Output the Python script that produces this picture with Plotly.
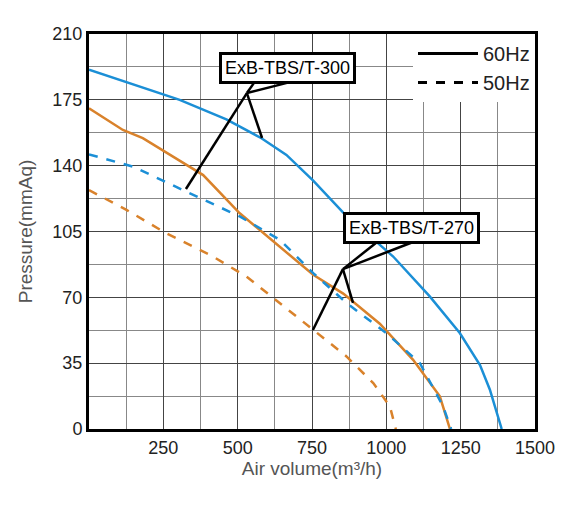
import plotly.graph_objects as go

# curves
blue60_x = [0, 305, 462, 580, 664, 754, 855, 1023, 1146, 1247, 1315, 1348, 1388]
blue60_y = [191, 175, 164.6, 154.6, 145.7, 132, 115, 91.7, 70.5, 51, 34, 21, 0]
orange60_x = [0, 114, 181, 384, 507, 642, 754, 855, 978, 1090, 1180, 1214]
orange60_y = [170.5, 159, 154.6, 135, 114.7, 97, 82, 72, 56, 36.8, 17.4, 0]
blue50_x = [0, 148, 316, 507, 642, 754, 866, 1000, 1113, 1191, 1218]
blue50_y = [146, 139.5, 127, 113, 100.6, 82.9, 67, 51, 35, 12, 0]
orange50_x = [0, 126, 260, 417, 530, 642, 754, 866, 956, 1012, 1032]
orange50_y = [127, 116.5, 104, 91.7, 81, 67, 52.8, 38.6, 24.4, 12, 0]

labels = ["ExB-TBS/T-300", "ExB-TBS/T-270"]
label_x = [666, 1086]
label_y = [192, 107]
# leader lines: node, then the points it connects to
nodes = [(531, 178.6), (854, 85)]
ends = [
    [(555, 184), (666, 184), (326, 127.6), (582, 154.7)],
    [(969, 99.4), (1090, 99.4), (753, 52.6), (888, 67)],
]

BLUE = "#1b8fd6"
ORANGE = "#d9822b"

fig = go.Figure()
fig.add_trace(go.Scatter(x=blue60_x, y=blue60_y, mode="lines", line=dict(color=BLUE, width=2.5), showlegend=False))
fig.add_trace(go.Scatter(x=orange60_x, y=orange60_y, mode="lines", line=dict(color=ORANGE, width=2.5), showlegend=False))
fig.add_trace(go.Scatter(x=blue50_x, y=blue50_y, mode="lines", line=dict(color=BLUE, width=2.5, dash="dash"), showlegend=False))
fig.add_trace(go.Scatter(x=orange50_x, y=orange50_y, mode="lines", line=dict(color=ORANGE, width=2.5, dash="dash"), showlegend=False))

for node, pts in zip(nodes, ends):
    for p in pts:
        fig.add_shape(type="line", x0=node[0], y0=node[1], x1=p[0], y1=p[1],
                      line=dict(color="black", width=2.5))

for t, x, y in zip(labels, label_x, label_y):
    fig.add_annotation(x=x, y=y, text=t, showarrow=False, bgcolor="white", bordercolor="black",
                       borderwidth=3, borderpad=3, font=dict(size=18, color="black", family="Arial"))

fig.add_trace(go.Scatter(x=[None], y=[None], mode="lines", name="60Hz", line=dict(color="black", width=3)))
fig.add_trace(go.Scatter(x=[None], y=[None], mode="lines", name="50Hz", line=dict(color="black", width=3, dash="dash")))

fig.update_layout(
    width=584, height=510, plot_bgcolor="white", paper_bgcolor="white",
    margin=dict(l=81, r=57, t=26, b=89),
    font=dict(family="Arial", size=18, color="#222"),
    legend=dict(x=1, y=1, xanchor="right", yanchor="top", bgcolor="white", borderwidth=0,
                font=dict(size=20), tracegroupgap=0, itemwidth=60),
    xaxis=dict(range=[0, 1500], tickvals=[250, 500, 750, 1000, 1250, 1500], showgrid=True,
               gridcolor="#444", gridwidth=1, minor=dict(dtick=125, showgrid=True, gridcolor="#888"),
               showline=True, linecolor="black", linewidth=3, mirror=True, zeroline=False,
               title=dict(text="Air volume(m³/h)", font=dict(color="#555", size=19), standoff=6), ticks=""),
    yaxis=dict(range=[0, 210], dtick=35, showgrid=True, gridcolor="#444", gridwidth=1,
               minor=dict(dtick=17.5, showgrid=True, gridcolor="#888"),
               showline=True, linecolor="black", linewidth=3, mirror=True, zeroline=False,
               title=dict(text="Pressure(mmAq)", font=dict(color="#555", size=19)), ticks=""),
)

fig.write_html("out.html")
